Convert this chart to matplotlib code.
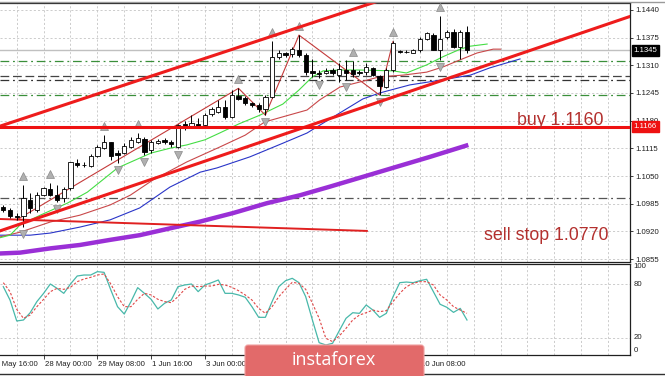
import matplotlib
matplotlib.use("Agg")
import matplotlib.pyplot as plt
import matplotlib.transforms as mtransforms
from matplotlib.patches import FancyBboxPatch
from matplotlib.lines import Line2D

plt.rcParams['font.family'] = ['Liberation Sans', 'DejaVu Sans']

# ---------------- data ----------------
bar_open = [1.0978, 1.0969, 1.0957, 1.0955, 1.0994, 1.0970, 1.1005, 1.1020, 1.1005, 1.0998,
            1.1021, 1.1080, 1.1076, 1.1074, 1.1097, 1.1115, 1.1129, 1.1105, 1.1105, 1.1119,
            1.1131, 1.1137, 1.1110, 1.1128, 1.1135, 1.1131, 1.1119, 1.1172, 1.1166, 1.1172,
            1.1170, 1.1196, 1.1201, 1.1213, 1.1189, 1.1238, 1.1233, 1.1222, 1.1217, 1.1207,
            1.1236, 1.1329, 1.1340, 1.1336, 1.1346, 1.1334, 1.1297, 1.1293, 1.1292, 1.1298,
            1.1287, 1.1299, 1.1298, 1.1295, 1.1295, 1.1303, 1.1285, 1.1260, 1.1299, 1.1343,
            1.1341, 1.1340, 1.1346, 1.1373, 1.1381, 1.1346, 1.1376, 1.1389, 1.1352, 1.1389]
bar_high = [1.0982, 1.0974, 1.0962, 1.1029, 1.1011, 1.1013, 1.1025, 1.1033, 1.1029, 1.1025,
            1.1084, 1.1089, 1.1084, 1.1102, 1.1123, 1.1146, 1.1131, 1.1111, 1.1127, 1.1142,
            1.1150, 1.1142, 1.1135, 1.1136, 1.1139, 1.1135, 1.1172, 1.1180, 1.1193, 1.1186,
            1.1197, 1.1211, 1.1229, 1.1229, 1.1252, 1.1256, 1.1237, 1.1225, 1.1221, 1.1240,
            1.1366, 1.1346, 1.1342, 1.1354, 1.1381, 1.1338, 1.1324, 1.1299, 1.1303, 1.1303,
            1.1315, 1.1323, 1.1319, 1.1299, 1.1315, 1.1307, 1.1287, 1.1303, 1.1366, 1.1346,
            1.1346, 1.1348, 1.1376, 1.1389, 1.1385, 1.1426, 1.1392, 1.1395, 1.1393, 1.1402]
bar_low = [1.0966, 1.0951, 1.0947, 1.0931, 1.0962, 1.0966, 1.1002, 1.1002, 1.0990, 1.0990,
           1.1017, 1.1072, 1.1070, 1.1072, 1.1094, 1.1113, 1.1088, 1.1080, 1.1102, 1.1115,
           1.1127, 1.1099, 1.1103, 1.1125, 1.1125, 1.1119, 1.1115, 1.1158, 1.1162, 1.1162,
           1.1166, 1.1191, 1.1197, 1.1183, 1.1186, 1.1229, 1.1217, 1.1213, 1.1201, 1.1193,
           1.1233, 1.1326, 1.1330, 1.1330, 1.1329, 1.1287, 1.1283, 1.1280, 1.1290, 1.1287,
           1.1272, 1.1276, 1.1283, 1.1287, 1.1287, 1.1285, 1.1240, 1.1256, 1.1295, 1.1338,
           1.1338, 1.1338, 1.1342, 1.1370, 1.1345, 1.1323, 1.1371, 1.1350, 1.1326, 1.1338]
bar_close = [1.0969, 1.0956, 1.0953, 1.0998, 1.0974, 1.1005, 1.1021, 1.1005, 1.0994, 1.1019,
             1.1082, 1.1076, 1.1075, 1.1097, 1.1117, 1.1131, 1.1096, 1.1099, 1.1121, 1.1135,
             1.1139, 1.1107, 1.1131, 1.1133, 1.1130, 1.1125, 1.1170, 1.1166, 1.1174, 1.1168,
             1.1193, 1.1207, 1.1211, 1.1188, 1.1240, 1.1231, 1.1221, 1.1217, 1.1207, 1.1236,
             1.1330, 1.1338, 1.1334, 1.1348, 1.1334, 1.1295, 1.1293, 1.1290, 1.1297, 1.1291,
             1.1301, 1.1293, 1.1290, 1.1293, 1.1305, 1.1287, 1.1262, 1.1299, 1.1362, 1.1341,
             1.1342, 1.1345, 1.1371, 1.1385, 1.1346, 1.1373, 1.1389, 1.1354, 1.1389, 1.1346]

price_ticks = [1.1440, 1.1375, 1.1310, 1.1245, 1.1180, 1.1115, 1.1050, 1.0985, 1.0920, 1.0855]
time_tick_bars = [-2, 6, 14, 22, 30, 38, 46, 54, 62]
time_label_bars = [-2, 6, 14, 22, 30, 62]
time_tick_labels = ["26 May 16:00", "28 May 00:00", "29 May 08:00", "1 Jun 16:00", "3 Jun 00:00",
                    "10 Jun 08:00"]

lips_bars = [-0.5, 1, 2.5, 5.5, 9.5, 12.5, 14.4, 17, 19, 22, 25, 27.3, 30, 32.2, 35, 38.2, 41.6,
             44, 46, 47.6, 50, 53, 58, 60, 63, 65.4, 68, 69.5, 72]
lips_vals = [1.0905, 1.0911, 1.0935, 1.0958, 1.0986, 1.1012, 1.1036, 1.1069, 1.1083, 1.1104,
             1.1116, 1.1123, 1.1135, 1.1151, 1.1172, 1.1193, 1.1219, 1.1252, 1.1283, 1.1297,
             1.1299, 1.1299, 1.1297, 1.1292, 1.1311, 1.1330, 1.1348, 1.1355, 1.1360]
teeth_bars = [-0.5, 2.5, 7, 11.4, 15.9, 18.9, 22.3, 27.3, 32.2, 36, 38.9, 41.6, 45.2, 47.1,
              50.1, 53.1, 56, 59.5, 63, 65.4, 68, 70.5, 72.9, 74]
teeth_vals = [1.0907, 1.0918, 1.0942, 1.0958, 1.0982, 1.1005, 1.1041, 1.1083, 1.1118, 1.1146,
              1.1177, 1.1189, 1.1205, 1.1229, 1.1259, 1.1271, 1.1283, 1.1287, 1.1294, 1.1306,
              1.1323, 1.1339, 1.1348, 1.1348]
jaw_bars = [-0.5, 4, 7, 11.4, 15.9, 20.3, 24.8, 29.3, 31.8, 36.7, 41.6, 45.2, 48.6, 53.5, 56,
            60.5, 65.4, 69.5, 72.4, 76.9]
jaw_vals = [1.0911, 1.0911, 1.0916, 1.0930, 1.0947, 1.0975, 1.1024, 1.1059, 1.1069, 1.1095,
            1.1127, 1.1151, 1.1184, 1.1231, 1.1245, 1.1264, 1.1276, 1.1287, 1.1304, 1.1325]
ma_bars = [-0.5, 2.5, 7, 11.4, 15.9, 20.3, 24.8, 29.3, 34.2, 39.2, 44.2, 48.6, 53.5, 58.6, 63.5, 69.2]
ma_vals = [1.0868, 1.0870, 1.0880, 1.0888, 1.0900, 1.0911, 1.0927, 1.0943, 1.0963, 1.0986,
           1.1005, 1.1025, 1.1048, 1.1072, 1.1095, 1.1123]

zigzag_bars = [2, 35, 39, 44, 56, 58]
zigzag_vals = [1.0947, 1.1256, 1.1193, 1.1381, 1.1240, 1.1366]

upper_trend_bars = [-0.5, 60]
upper_trend_vals = [1.1167, 1.1483]
lower_trend_bars = [-0.5, 93.3]
lower_trend_vals = [1.0921, 1.1425]
sell_line_bars = [-0.5, 54.1]
sell_line_vals = [1.0949, 1.0921]

fractal_up_bars = [3, 7, 15, 20, 35, 40, 44, 52, 58, 65]
fractal_down_bars = [3, 8, 17, 21, 26, 39, 47, 51, 56, 65]

current_price = 1.1345
buy_level = 1.1166
green_levels = [1.1320, 1.1240]
black_levels = [1.1285, 1.1276, 1.0999]

stoch_k = [77.2, 62.2, 38.6, 39.7, 47.9, 60.4, 69.7, 80.2, 75.3, 69.7,
           80.2, 89.2, 90.3, 90.3, 94.1, 93.3, 73.5, 54.7, 46.4, 60.4,
           76.1, 69.7, 63.0, 52.1, 58.5, 62.2, 77.2, 79.1, 80.2, 71.6,
           79.1, 81.7, 84.7, 69.7, 69.7, 67.9, 65.3, 54.7, 42.7, 42.7,
           60.4, 77.2, 83.9, 86.6, 81.7, 66.0, 39.7, 14.2, 11.6, 13.5,
           27.7, 41.6, 47.9, 47.2, 56.6, 50.9, 42.7, 47.2, 66.0, 81.7,
           82.4, 81.7, 83.9, 85.5, 71.6, 57.4, 54.0, 48.3, 52.8, 39.7]
stoch_d = [81.7, 71.6, 51.7, 41.6, 45.3, 54.7, 63.0, 71.6, 75.3, 74.2,
           76.5, 82.8, 85.8, 87.7, 90.3, 91.5, 80.2, 66.0, 54.7, 54.7,
           63.0, 69.7, 67.9, 63.0, 60.4, 59.2, 66.0, 74.2, 77.9, 77.2,
           77.9, 77.9, 79.8, 79.1, 76.5, 72.7, 67.9, 62.2, 52.8, 47.2,
           54.7, 66.0, 74.2, 82.1, 80.9, 74.2, 58.5, 41.6, 19.1, 15.4,
           21.7, 30.3, 39.7, 45.3, 47.9, 50.9, 49.1, 50.2, 60.4, 69.7,
           77.2, 80.9, 82.8, 82.8, 79.1, 67.9, 62.2, 54.7, 50.9, 47.2]
stoch_levels = [80, 20]
stoch_labels = ["100", "80", "20", "0"]
stoch_label_vals = [100, 80, 20, 5.5]

# ---------------- figure ----------------
W, H = 665, 376
fig = plt.figure(figsize=(W / 100, H / 100), dpi=100)
fig.patch.set_facecolor('white')

ax = fig.add_axes([0, 1 - 262 / H, 630 / W, (262 - 3) / H])
axs = fig.add_axes([0, 1 - 354.5 / H, 630 / W, (354.5 - 264) / H])

XL = (-0.49, 93.26)
for a in (ax, axs):
    a.set_xlim(*XL)
    a.set_facecolor('white')
    for s in ('top', 'right', 'bottom'):
        a.spines[s].set_color('#202020')
        a.spines[s].set_linewidth(0.9)
    a.spines['left'].set_visible(False)
ax.set_ylim(1.08480, 1.14564)
axs.set_ylim(0.9, 102.7)

grid_kw = dict(color='#c4c4c4', lw=0.6, ls=(0, (2.5, 2.5)), zorder=0)
vbars = list(range(2, 94, 4))
for b in vbars:
    ax.axvline(b, **grid_kw)
    axs.axvline(b, **grid_kw)
for p in price_ticks:
    ax.axhline(p, **grid_kw)
for lv in stoch_levels:
    axs.axhline(lv, **grid_kw)

# price axis
ax.yaxis.tick_right()
ax.set_yticks(price_ticks)
ax.set_yticklabels(["%.4f" % p for p in price_ticks])
ax.tick_params(axis='y', labelsize=5.6, length=2.5, width=0.6, pad=1.5, colors='#202020')
ax.set_xticks([])
axs.set_yticks([])
axs.set_xticks([b for b in time_tick_bars if b >= XL[0]])
axs.set_xticklabels([])
axs.tick_params(axis='x', length=3, width=0.6, direction='out', colors='#202020')

# level lines
ax.axhline(current_price, color='#c0c0c0', lw=1.0, zorder=1)
for lv in green_levels:
    ax.axhline(lv, color='#3a8f3a', lw=0.9, ls=(0, (7, 3, 1.5, 3)), zorder=1)
ax.axhline(black_levels[0], color='#444444', lw=0.9, ls=(0, (7, 3)), zorder=1)
ax.axhline(black_levels[1], color='#333333', lw=0.9, ls=(0, (7, 3, 1.5, 3)), zorder=1)
ax.axhline(black_levels[2], color='#555555', lw=0.9, ls=(0, (7, 3, 1.5, 3)), zorder=1)

# moving averages / alligator
ax.plot(ma_bars, ma_vals, color='#9a2fd6', lw=3.2, solid_capstyle='butt', zorder=2)
ax.plot(jaw_bars, jaw_vals, color='#2a35c8', lw=0.8, zorder=2)
ax.plot(teeth_bars, teeth_vals, color='#c9484a', lw=0.8, zorder=2)
ax.plot(lips_bars, lips_vals, color='#44dd44', lw=0.8, zorder=2)
ax.plot(zigzag_bars, zigzag_vals, color='#c43a3a', lw=0.8, zorder=2)
ax.plot(sell_line_bars, sell_line_vals, color='#e02020', lw=1.4, zorder=2)

# candles
for i in range(len(bar_open)):
    o, h, l, c = bar_open[i], bar_high[i], bar_low[i], bar_close[i]
    ax.vlines(i, l, h, color='black', lw=0.7, zorder=3)
    lo, hi = min(o, c), max(o, c)
    ht = max(hi - lo, 0.00006)
    fc = 'white' if c >= o else 'black'
    ax.bar(i, ht, bottom=lo, width=0.64, facecolor=fc, edgecolor='black', lw=0.6, zorder=4)

# fractals
up_tr = mtransforms.offset_copy(ax.transData, fig=fig, x=0, y=9, units='dots')
dn_tr = mtransforms.offset_copy(ax.transData, fig=fig, x=0, y=-7, units='dots')
ax.plot(fractal_up_bars, [bar_high[b] for b in fractal_up_bars], ls='none', marker='^',
        ms=5.2, mfc='#b0b0b0', mec='#8a8a8a', mew=0.5, transform=up_tr, zorder=5)
ax.plot(fractal_down_bars, [bar_low[b] for b in fractal_down_bars], ls='none', marker='v',
        ms=5.2, mfc='#b0b0b0', mec='#8a8a8a', mew=0.5, transform=dn_tr, zorder=5)

# trend lines and buy line
ax.plot(upper_trend_bars, upper_trend_vals, color='#ee1c1c', lw=2.2, zorder=6)
ax.plot(lower_trend_bars, lower_trend_vals, color='#ee1c1c', lw=2.2, zorder=6)
ax.axhline(buy_level, color='#ee1111', lw=2.2, zorder=6)

# annotations
fig.text(517 / W, 1 - 125 / H, "buy 1.1160", color='#b3302e', fontsize=12.8,
         ha='left', va='baseline')
fig.text(484 / W, 1 - 239.5 / H, "sell stop 1.0770", color='#b3302e', fontsize=12.8,
         ha='left', va='baseline')

# price boxes
btr = mtransforms.blended_transform_factory(ax.transAxes, ax.transData)
ax.text(1.006, current_price, "%.4f" % current_price, transform=btr, fontsize=5.6, color='white',
        ha='left', va='center', clip_on=False, zorder=10,
        bbox=dict(boxstyle='square,pad=0.25', fc='black', ec='black'))
ax.text(1.006, buy_level, "%.4f" % buy_level, transform=btr, fontsize=5.6, color='white',
        ha='left', va='center', clip_on=False, zorder=10,
        bbox=dict(boxstyle='square,pad=0.25', fc='#ee1111', ec='#ee1111'))

# stochastic
kb = list(range(len(stoch_k)))
axs.plot(kb, stoch_k, color='#48b8aa', lw=0.9, zorder=3)
axs.plot(kb, stoch_d, color='#e04848', lw=0.8, ls=(0, (2.2, 1.6)), zorder=3)
str_ = mtransforms.blended_transform_factory(axs.transAxes, axs.transData)
for lab, v in zip(stoch_labels, stoch_label_vals):
    axs.text(1.006, v, lab, transform=str_, fontsize=5.6, color='#202020', ha='left',
             va='center', clip_on=False)

# time labels
ttr = mtransforms.offset_copy(mtransforms.blended_transform_factory(axs.transData, axs.transAxes),
                              fig=fig, x=1, y=-10, units='dots')
for b, lab in zip(time_label_bars, time_tick_labels):
    axs.text(b, 0, lab, transform=ttr, fontsize=5.6, color='#202020', ha='left', va='center',
             clip_on=False)

# frame lines
fig.add_artist(Line2D([0, 1], [1 - 1.5 / H, 1 - 1.5 / H], color='#9a9a9a', lw=1.0,
                      transform=fig.transFigure))
fig.add_artist(Line2D([0, 1], [1 - 374 / H, 1 - 374 / H], color='#303030', lw=1.0,
                      transform=fig.transFigure))

# logo
logo = FancyBboxPatch((245, -4), 179, 35, boxstyle='round,pad=0,rounding_size=3',
                      transform=mtransforms.IdentityTransform(), facecolor='#e26a6a',
                      edgecolor='#f0a0a0', lw=0.8, zorder=20)
fig.add_artist(logo)
fig.text(334 / W, 1 - 360 / H, "instaforex", color='white', fontsize=13,
         family=['Open Sans', 'DejaVu Sans'], ha='center', va='center', zorder=21)

fig.savefig("out.png", dpi=100, facecolor='white')
